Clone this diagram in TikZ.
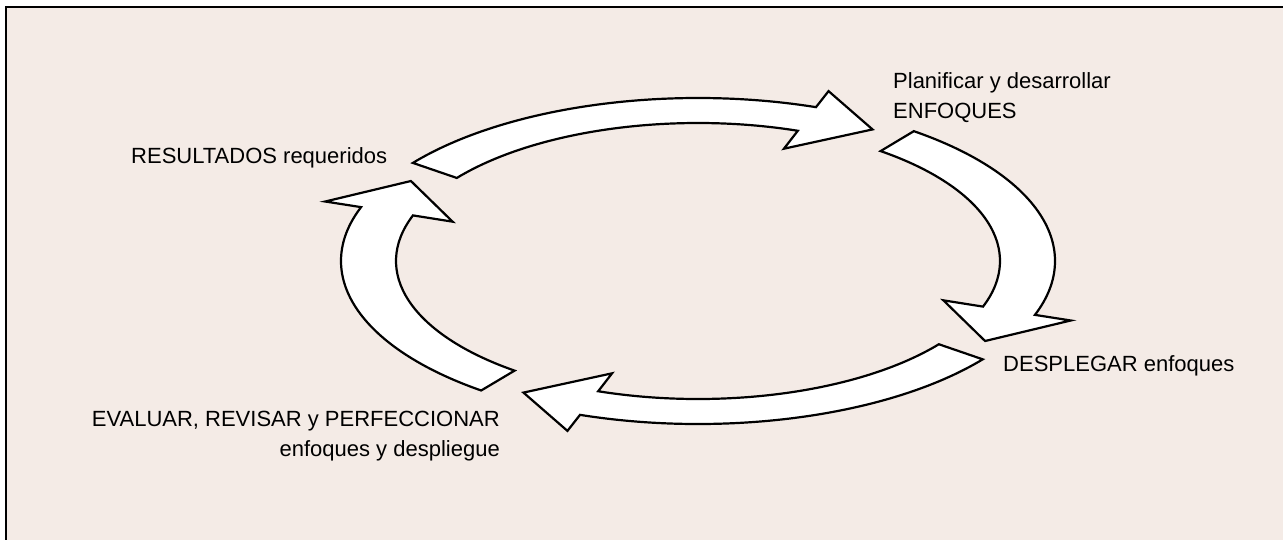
\documentclass[tikz,border=0pt]{standalone}
\usepackage{fontspec}
\setmainfont{Liberation Sans}
\usetikzlibrary{calc}
\definecolor{bgcol}{RGB}{244,235,230}
\definecolor{edgecol}{RGB}{0,0,0}
\definecolor{labelcol}{RGB}{0,0,0}

\begin{document}
\begin{tikzpicture}[
  x=1pt, y=-1pt,
  frame/.style={draw=edgecol, line width=1.6pt, fill=bgcol},
  ringarrow/.style={draw=edgecol, line width=2.2pt, fill=white, line join=miter},
  lbl/.style={font=\fontsize{22}{30}\selectfont, text=labelcol, inner sep=0pt}
]
\useasboundingbox (0,0) rectangle (1283,539);

%% ===================== Frame ====================================
\draw[frame] (6,7) rectangle (1300,560);
\coordinate (ctr) at (698,261);

%% ===================== Cycle arrows =============================
% top: RESULTADOS -> ENFOQUES
\draw[ringarrow] ($(ctr)+(217:357 and 163)$)
  arc[start angle=217, end angle=289.3, x radius=357, y radius=163]
  -- ($(ctr)+(289.3:395 and 180)$) -- ($(ctr)+(301.3:336 and 154)$)
  -- ($(ctr)+(289.3:260 and 119)$) -- ($(ctr)+(289.3:302 and 138)$)
  arc[start angle=289.3, end angle=217, x radius=302, y radius=138] -- cycle;
% right: ENFOQUES -> DESPLEGAR
\draw[ringarrow] ($(ctr)+(307.2:357 and 163)$)
  arc[start angle=307.2, end angle=379.3, x radius=357, y radius=163]
  -- ($(ctr)+(379.3:395 and 180)$) -- ($(ctr)+(391.3:336 and 154)$)
  -- ($(ctr)+(379.3:260 and 119)$) -- ($(ctr)+(379.3:302 and 138)$)
  arc[start angle=379.3, end angle=307.2, x radius=302, y radius=138] -- cycle;
% bottom: DESPLEGAR -> EVALUAR
\draw[ringarrow] ($(ctr)+(397.1:357 and 163)$)
  arc[start angle=397.1, end angle=469.3, x radius=357, y radius=163]
  -- ($(ctr)+(469.3:395 and 180)$) -- ($(ctr)+(481.3:336 and 154)$)
  -- ($(ctr)+(469.3:260 and 119)$) -- ($(ctr)+(469.3:302 and 138)$)
  arc[start angle=469.3, end angle=397.1, x radius=302, y radius=138] -- cycle;
% left: EVALUAR -> RESULTADOS
\draw[ringarrow] ($(ctr)+(487.4:357 and 163)$)
  arc[start angle=487.4, end angle=559.3, x radius=357, y radius=163]
  -- ($(ctr)+(559.3:395 and 180)$) -- ($(ctr)+(571.3:336 and 154)$)
  -- ($(ctr)+(559.3:260 and 119)$) -- ($(ctr)+(559.3:302 and 138)$)
  arc[start angle=559.3, end angle=487.4, x radius=302, y radius=138] -- cycle;

%% ===================== Labels ===================================
\node[lbl, anchor=base west] (res) at (131,163) {RESULTADOS requeridos};
\node[lbl, anchor=base west, align=left] (plan) at (893,118) {Planificar y desarrollar\\ENFOQUES};
\node[lbl, anchor=base west] (desp) at (1003,371) {DESPLEGAR enfoques};
\node[lbl, anchor=base east, align=right] (eval) at (500,456) {EVALUAR, REVISAR y PERFECCIONAR\\enfoques y despliegue};

\end{tikzpicture}
\end{document}
